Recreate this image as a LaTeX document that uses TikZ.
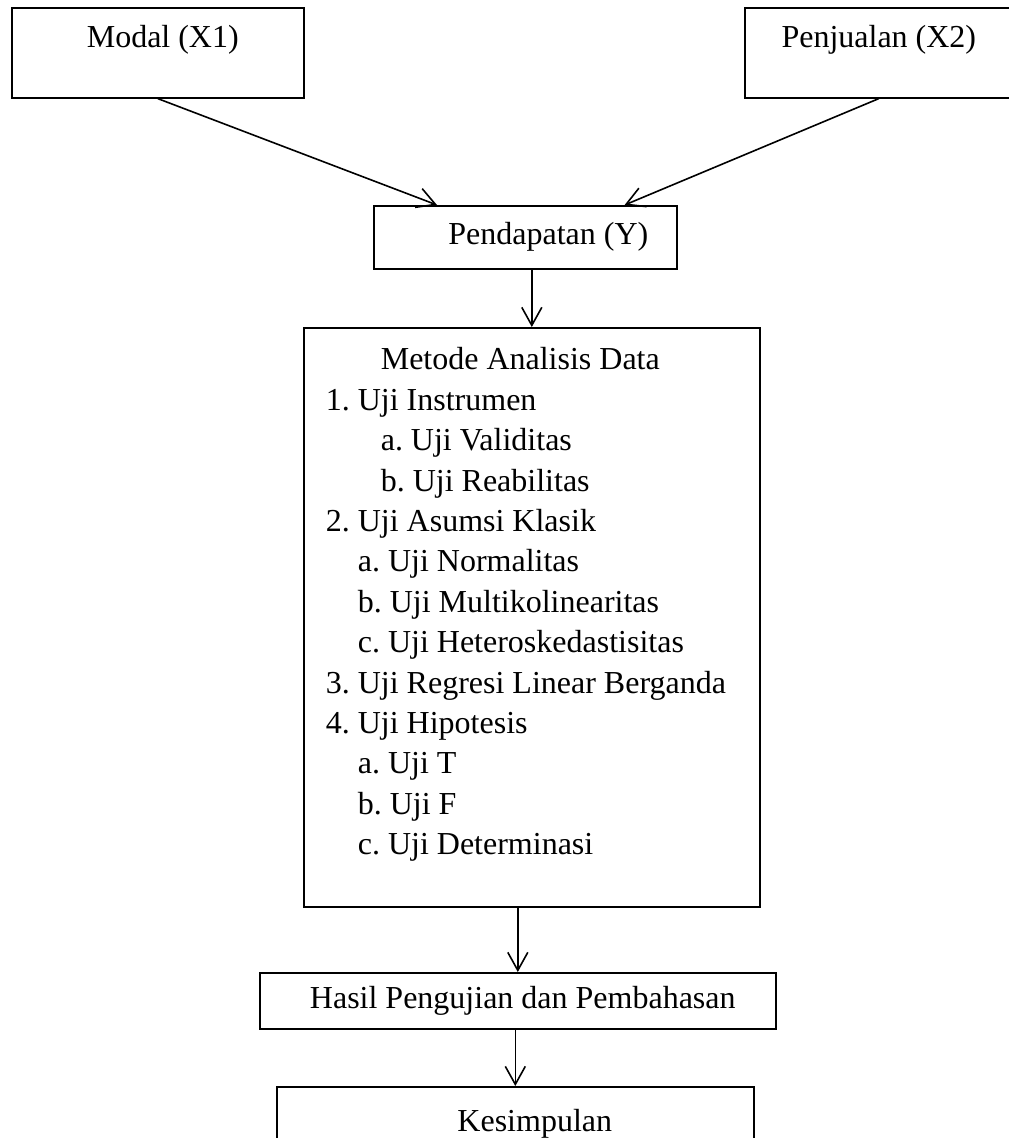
\documentclass[tikz,border=0pt]{standalone}
\usepackage{fontspec}
\setmainfont{Liberation Serif}
\usetikzlibrary{arrows.meta}
\tikzset{
  kotak/.style={draw,line width=1.6pt,inner sep=0pt,anchor=north west,font=\fontsize{32}{40.4}\selectfont\frenchspacing},
  panah/.style={line width=1.6pt,-{Straight Barb[length=18pt,width=20pt]}}
}
\begin{document}
\begin{tikzpicture}[x=1pt,y=-1pt]
  \useasboundingbox (0,0) rectangle (1009,1138);
  % variabel
  \node[kotak,minimum width=292pt,text height=40pt,text depth=50pt] (modal) at (11,7) {\hspace*{10pt}Modal (X1)};
  \node[kotak,minimum width=268pt,text height=40pt,text depth=50pt] (jual) at (744,7) {Penjualan (X2)};
  \node[kotak,minimum width=303pt,text height=39pt,text depth=24pt] (dapat) at (373,205) {\hspace*{46pt}Pendapatan (Y)};
  % metode
  \node[kotak,inner xsep=22pt,text height=42pt,text depth=537pt] (metode) at (303,327) {\parbox[t]{412pt}{\raggedright
    \hspace*{55pt}Metode Analisis Data\\
    1. Uji Instrumen\\
    \hspace*{55pt}a. Uji Validitas\\
    \hspace*{55pt}b. Uji Reabilitas\\
    2. Uji Asumsi Klasik\\
    \hspace*{32pt}a. Uji Normalitas\\
    \hspace*{32pt}b. Uji Multikolinearitas\\
    \hspace*{32pt}c. Uji Heteroskedastisitas\\
    3. Uji Regresi Linear Berganda\\
    4. Uji Hipotesis\\
    \hspace*{32pt}a. Uji T\\
    \hspace*{32pt}b. Uji F\\
    \hspace*{32pt}c. Uji Determinasi}};
  \node[kotak,minimum width=516pt,text height=36pt,text depth=20pt] (hasil) at (259,972) {\hspace*{10pt}Hasil Pengujian dan Pembahasan};
  \node[kotak,minimum width=477pt,text height=45pt,text depth=40pt] (simpul) at (276,1086) {\hspace*{39pt}Kesimpulan};
  % panah
  \draw[panah] (modal.south) -- ([xshift=64pt]dapat.north west);
  \draw[panah] (jual.south) -- ([xshift=-53pt]dapat.north east);
  \draw[panah] (dapat.south -| metode.north) -- (metode.north);
  \draw[panah] (metode.south -| hasil.north) -- (hasil.north);
  \draw[panah] (hasil.south -| simpul.north) -- (simpul.north);
\end{tikzpicture}
\end{document}
